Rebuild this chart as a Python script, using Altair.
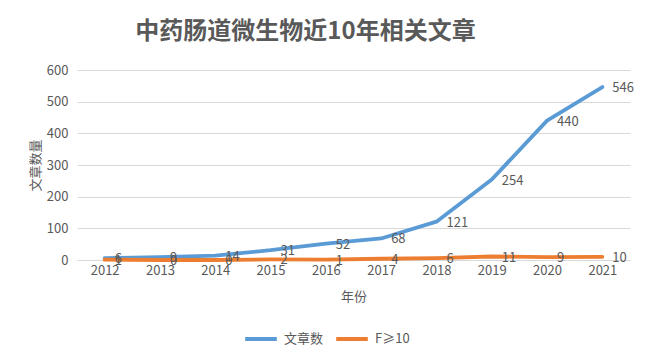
import altair as alt
import pandas as pd

years = ["2012", "2013", "2014", "2015", "2016", "2017", "2018", "2019", "2020", "2021"]
articles = [6, 9, 14, 31, 52, 68, 121, 254, 440, 546]
high_if = [1, 0, 0, 2, 1, 4, 6, 11, 9, 10]
series_names = ["文章数", "F≥10"]
series_colors = ["#5B9BD5", "#ED7D31"]
y_ticks = [0, 100, 200, 300, 400, 500, 600]

rows = []
for name, vals in zip(series_names, [articles, high_if]):
    for yr, v in zip(years, vals):
        rows.append({"年份": yr, "数量": v, "系列": name})
df = pd.DataFrame(rows)

FONT = "Noto Sans CJK SC"
GREY = "#595959"

base = alt.Chart(df).encode(
    x=alt.X(
        "年份:O",
        sort=years,
        scale=alt.Scale(type="point", padding=0.5),
        axis=alt.Axis(
            title="年份", labelAngle=0, ticks=False, domain=True, domainColor="#d9d9d9",
            labelPadding=4, titlePadding=13, grid=False,
        ),
    ),
    y=alt.Y(
        "数量:Q",
        scale=alt.Scale(domain=[0, 600], nice=False),
        axis=alt.Axis(
            title="文章数量", values=y_ticks, ticks=False, domain=False,
            labelPadding=9, titlePadding=4, grid=True,
        ),
    ),
)

lines = base.mark_line(strokeWidth=3.8, strokeJoin="round", strokeCap="round").encode(
    color=alt.Color(
        "系列:N",
        scale=alt.Scale(domain=series_names, range=series_colors),
        legend=alt.Legend(
            title=None, orient="none", direction="horizontal",
            legendX=166, legendY=251, symbolType="stroke", symbolSize=1000,
            symbolStrokeWidth=4, labelFontSize=13, labelColor=GREY, labelFont=FONT,
            columnPadding=4, labelOffset=5,
        ),
    ),
    detail="系列:N",
)

labels = base.mark_text(
    align="left", baseline="middle", dx=10, dy=1, fontSize=13, font=FONT, color=GREY
).encode(text="数量:Q", detail="系列:N")

chart = (
    alt.layer(lines, labels)
    .properties(
        width=553,
        height=190,
        background="white",
        autosize=alt.AutoSizeParams(type="none"),
        padding={"left": 69, "top": 62, "right": 12, "bottom": 92},
        title=alt.TitleParams(
            "中药肠道微生物近10年相关文章", fontSize=24, font=FONT, color=GREY,
            fontWeight="bold", anchor="middle", dx=-48, offset=20,
        ),
    )
    .configure_view(stroke=None)
    .configure_axis(
        labelFont=FONT, titleFont=FONT, labelColor=GREY, titleColor=GREY,
        labelFontSize=13, titleFontSize=13, titleFontWeight="normal",
        gridColor="#d9d9d9", gridWidth=1,
    )
)

chart.save("out.html", embed_options={"renderer": "svg", "actions": False})
